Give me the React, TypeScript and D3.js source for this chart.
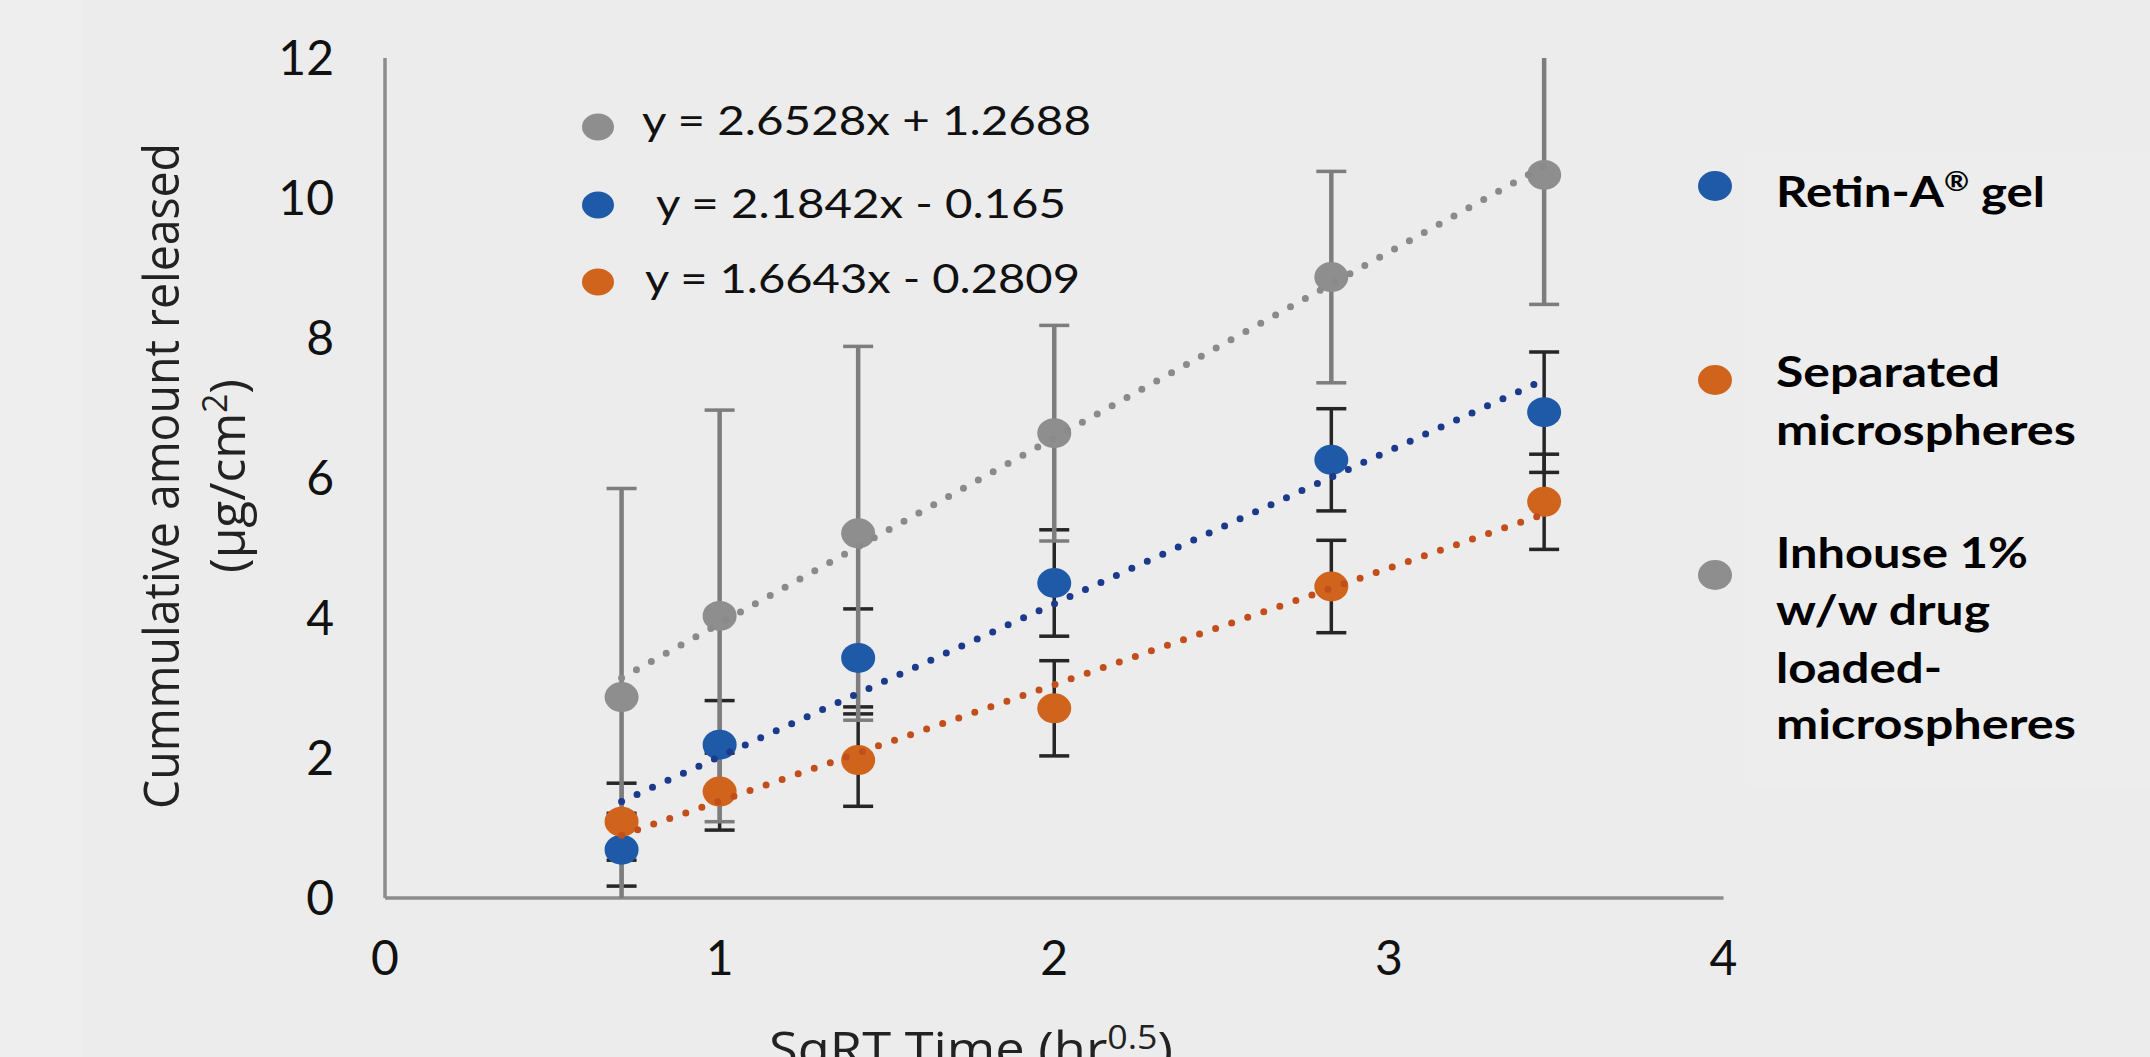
import * as d3 from 'd3';

// time points as sqrt(hr)
const xValues = [0.707, 1, 1.414, 2, 2.828, 3.464];

const retinA = [0.69, 2.19, 3.43, 4.5, 6.26, 6.94];
const retinAErr = [0.52, 0.63, 0.7, 0.76, 0.73, 0.86];
const separated = [1.09, 1.52, 1.97, 2.71, 4.45, 5.66];
const separatedErr = [0.55, 0.55, 0.66, 0.68, 0.66, 0.68];
const inhouse = [2.87, 4.03, 5.21, 6.64, 8.87, 10.33];
const inhouseErr = [2.98, 2.94, 2.67, 1.54, 1.51, 1.85];

// linear trendlines shown on the chart
const trendSlopes = [2.1842, 1.6643, 2.6528];
const trendIntercepts = [-0.165, -0.2809, 1.2688];
const equationLabels = ['y = 2.6528x + 1.2688', ' y = 2.1842x - 0.165', 'y = 1.6643x - 0.2809'];

const legendLines = [['Separated', 'microspheres'], ['Inhouse 1%', 'w/w drug', 'loaded-', 'microspheres']];

const xTicks = [0, 1, 2, 3, 4];
const yTicks = [0, 2, 4, 6, 8, 10, 12];

const W = 2150;
const H = 1057;

const x = d3.scaleLinear().domain([0, 4]).range([385, 1723.5]);
const y = d3.scaleLinear().domain([0, 12]).range([898, 58]);

const BLUE = '#1e5aa8';
const ORANGE = '#d0641c';
const GREY = '#8e8e8e';

const series = [
  { values: retinA, err: retinAErr, color: BLUE, trend: '#1c3a8c', bar: '#262626', k: 0 },
  { values: separated, err: separatedErr, color: ORANGE, trend: '#c24e1c', bar: '#262626', k: 1 },
  { values: inhouse, err: inhouseErr, color: GREY, trend: '#8a8a8a', bar: '#7d7d7d', k: 2 },
];

const LAT = 'Lato, "Open Sans", sans-serif';
const OS = '"Open Sans", "Noto Sans", sans-serif';

function ErrorBars({ s }) {
  const [lo, hi] = y.domain();
  return (
    <g stroke={s.bar}>
      {s.values.map((v, i) => {
        const cx = x(xValues[i]);
        const top = v + s.err[i];
        const bot = v - s.err[i];
        const yt = y(Math.min(top, hi));
        const yb = y(Math.max(bot, lo));
        return (
          <g key={i}>
            <line x1={cx} x2={cx} y1={yt} y2={yb} strokeWidth={s.k === 2 ? 4.5 : 3.5} />
            {top <= hi && <line x1={cx - 15} x2={cx + 15} y1={yt} y2={yt} strokeWidth={3.5} />}
            {bot >= lo && <line x1={cx - 15} x2={cx + 15} y1={yb} y2={yb} strokeWidth={3.5} />}
          </g>
        );
      })}
    </g>
  );
}

export default function App() {
  const eqColors = [GREY, BLUE, ORANGE];
  const eqMarkY = [127, 205, 282];
  const eqTextX = [642, 645, 645];
  const eqBase = [135, 218, 293];
  const eqLen = [449, 421, 435];

  // legend text layout
  const legY = [[387, 445], [568, 625, 683, 739]];
  const legLen = [[224, 300], [252, 214, 166, 300]];
  const legMarkY = [380, 575];
  const legColors = [ORANGE, GREY];

  const x0 = xValues[0];
  const x1 = xValues[xValues.length - 1];

  return (
    <svg width={W} height={H} style={{ position: 'absolute', left: 0, top: 0 }}>
      <rect width={W} height={H} fill="#ececec" />
      <rect width={83} height={H} fill="#eeeeee" />
      <rect x={1751} y={153} width={W - 1751} height={635} fill="#ededed" />

      {/* axes */}
      <line x1={x(0)} x2={x(0)} y1={y(0)} y2={y(12)} stroke="#8c8c8c" strokeWidth={3.5} />
      <line x1={x(0)} x2={x(4)} y1={y(0)} y2={y(0)} stroke="#8c8c8c" strokeWidth={3.5} />

      {yTicks.map(t => (
        <text key={t} x={334} y={y(t)} dy="0.36em" textAnchor="end" fontFamily={LAT} fontSize={48} fill="#111">
          {t}
        </text>
      ))}
      {xTicks.map(t => (
        <text key={t} x={x(t)} y={958} dy="0.36em" textAnchor="middle" fontFamily={LAT} fontSize={48} fill="#111">
          {t}
        </text>
      ))}

      {/* axis titles */}
      <g transform="translate(179,476) rotate(-90)">
        <text textAnchor="middle" fontFamily={OS} fontSize={50} fill="#222" textLength={666} lengthAdjust="spacingAndGlyphs">
          Cummulative amount released
        </text>
      </g>
      <g transform="translate(245,476) rotate(-90)">
        <text textAnchor="middle" fontFamily={OS} fontSize={50} fill="#222" textLength={194} lengthAdjust="spacingAndGlyphs">
          (μg/cm<tspan fontSize={34} dy={-18}>2</tspan><tspan dy={18}>)</tspan>
        </text>
      </g>
      <text x={769} y={1066} fontFamily={OS} fontSize={47} fill="#222" textLength={404} lengthAdjust="spacingAndGlyphs">
        SqRT Time (hr<tspan fontSize={32} dy={-17}>0.5</tspan><tspan dy={17}>)</tspan>
      </text>

      {/* error bars */}
      {series.map(s => <ErrorBars key={s.k} s={s} />)}

      {/* markers */}
      {series.map(s => (
        <g key={s.k} fill={s.color}>
          {s.values.map((v, i) => (
            <ellipse key={i} cx={x(xValues[i])} cy={y(v)} rx={17} ry={15} />
          ))}
        </g>
      ))}

      {/* trendlines */}
      {series.map(s => (
        <line
          key={s.k}
          x1={x(x0)}
          y1={y(trendSlopes[s.k] * x0 + trendIntercepts[s.k])}
          x2={x(x1)}
          y2={y(trendSlopes[s.k] * x1 + trendIntercepts[s.k])}
          stroke={s.trend}
          strokeWidth={7}
          strokeLinecap="round"
          strokeDasharray="0 17"
        />
      ))}

      {/* equation legend */}
      {equationLabels.map((lab, i) => (
        <g key={i}>
          <ellipse cx={598} cy={eqMarkY[i]} rx={16} ry={13.5} fill={eqColors[i]} />
          <text x={eqTextX[i]} y={eqBase[i]} fontFamily={LAT} fontSize={40} fill="#111" textLength={eqLen[i]} lengthAdjust="spacingAndGlyphs" xmlSpace="preserve">
            {lab}
          </text>
        </g>
      ))}

      {/* series legend */}
      <ellipse cx={1715} cy={186} rx={17} ry={15} fill={BLUE} />
      <text x={1776} y={207} fontFamily={LAT} fontWeight="bold" fontSize={42} fill="#000" textLength={269} lengthAdjust="spacingAndGlyphs">
        Retin-A<tspan fontSize={26} dy={-16}>®</tspan><tspan dy={16}> gel</tspan>
      </text>

      {legendLines.map((lines, j) => (
        <g key={j}>
          <ellipse cx={1715} cy={legMarkY[j]} rx={17} ry={15} fill={legColors[j]} />
          {lines.map((ln, i) => (
            <text key={i} x={1776} y={legY[j][i]} fontFamily={LAT} fontWeight="bold" fontSize={42} fill="#000" textLength={legLen[j][i]} lengthAdjust="spacingAndGlyphs">
              {ln}
            </text>
          ))}
        </g>
      ))}
    </svg>
  );
}
